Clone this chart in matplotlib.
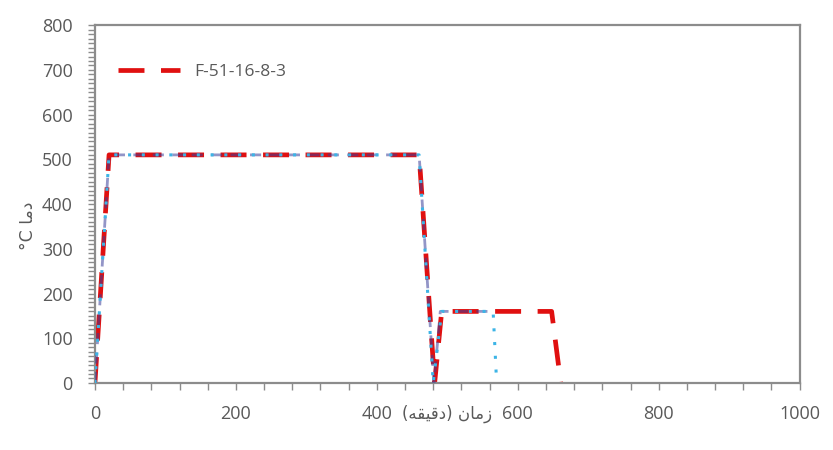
import numpy as np
import matplotlib.pyplot as plt
from matplotlib.ticker import MultipleLocator

# time (minutes) and temperature (C)
red_x = [0, 20, 460, 482, 492, 648, 661]
red_y = [0, 510, 510, 0, 160, 160, 0]

navy_x = [0, 20, 460, 481, 490, 560]
navy_y = [0, 510, 510, 0, 160, 160]

cyan_x = [0, 20, 460, 480, 492, 565, 570]
cyan_y = [0, 510, 510, 0, 160, 160, 0]

legend_label = 'F-51-16-8-3'
# Arabic text given in visual order with presentation forms
x_label = '(\uFEEA\uFED8\uFEF4\uFED7\uFEA9) \uFEE5\uFE8E\uFEE3\uFEAF'
y_label = '\u00b0C \uFE8E\uFEE3\uFEA9'

gray = '#595959'
plt.rcParams['font.family'] = ['Open Sans', 'DejaVu Sans']

fig = plt.figure(figsize=(8.33, 4.5), dpi=100)
ax = fig.add_axes([0.114, 0.149, 0.846, 0.795])

ax.plot(red_x, red_y, color='#e01010', lw=3.4, linestyle=(0, (5.5, 3.5)),
        label=legend_label, zorder=2)
ax.plot(navy_x, navy_y, color='#3a3f9a', lw=2.0, alpha=0.55,
        linestyle=(0, (4, 3)), zorder=3)
ax.plot(cyan_x, cyan_y, color='#3cb4e6', lw=2.2, linestyle=(0, (1, 3.5)),
        zorder=4)

ax.set_xlim(0, 1000)
ax.set_ylim(0, 800)
ax.xaxis.set_major_locator(MultipleLocator(200))
ax.xaxis.set_minor_locator(MultipleLocator(40))
ax.yaxis.set_major_locator(MultipleLocator(100))
ax.yaxis.set_minor_locator(MultipleLocator(10))

ax.tick_params(axis='both', which='both', colors='#8c8c8c', labelcolor=gray,
               labelsize=13, direction='out', width=1.0)
ax.tick_params(axis='x', which='both', length=5, pad=11)
ax.tick_params(axis='y', which='both', length=5, pad=11)

for s in ax.spines.values():
    s.set_color('#8c8c8c')
    s.set_linewidth(1.6)

ax.set_xlabel(x_label, color=gray, fontsize=12, family=['DejaVu Sans'])
ax.xaxis.set_label_coords(0.5, -0.06)
ax.set_ylabel(y_label, color=gray, fontsize=12.5, family=['DejaVu Sans'])
ax.yaxis.set_label_coords(-0.082, 0.44)

leg = ax.legend(loc='upper left', bbox_to_anchor=(0.01, 0.935), frameon=False,
                fontsize=12.5, handlelength=3.6, handletextpad=0.8,
                labelcolor=gray)

fig.savefig('out.png', dpi=100)
